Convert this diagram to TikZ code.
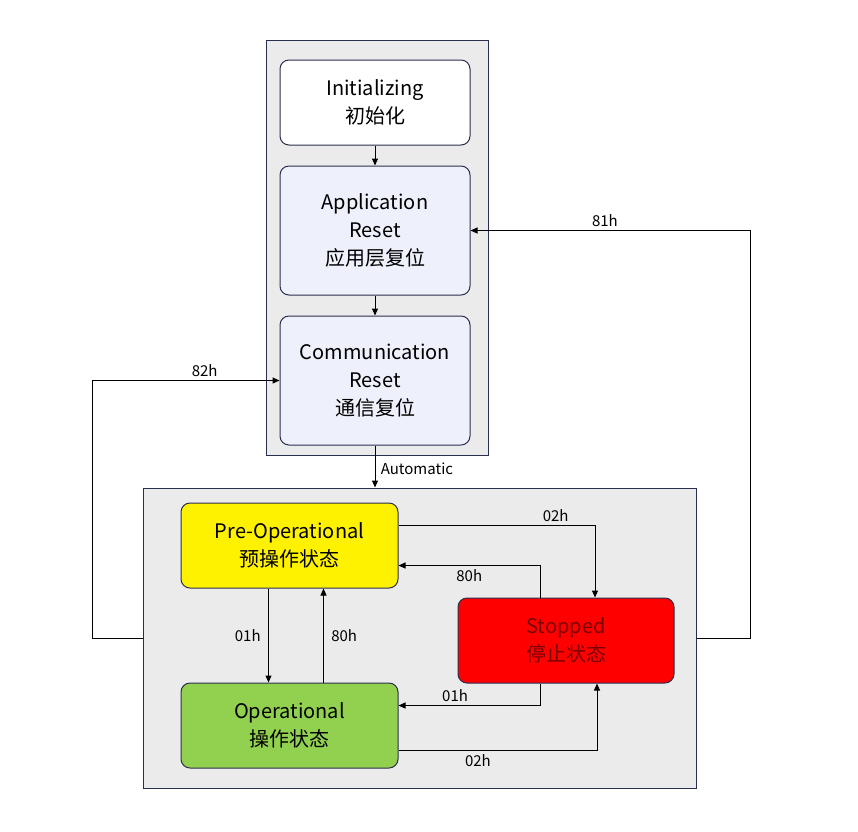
\documentclass[tikz,border=0pt]{standalone}
\usepackage{fontspec}
\setmainfont{Noto Sans CJK SC}
\usetikzlibrary{arrows.meta,calc}
\definecolor{frame}{HTML}{2B2F4E}
\definecolor{appblue}{HTML}{EEF0FC}
\definecolor{grpgray}{HTML}{EBEBEB}
\definecolor{opgreen}{HTML}{92D050}
\definecolor{stopred}{HTML}{FF0000}
\definecolor{stoptext}{HTML}{7A0000}
\tikzset{
  group/.style={draw=frame,line width=1pt,fill=grpgray},
  state/.style={draw=frame,line width=1pt,rounded corners=9pt,minimum width=190pt,
    align=center,font=\fontsize{20}{28}\selectfont},
  link/.style={-{Triangle[length=7pt,width=6pt]},line width=1pt},
  lbl/.style={font=\fontsize{15}{18}\selectfont}
}
\begin{document}
\begin{tikzpicture}[x=1pt,y=-1pt]
\useasboundingbox (0,0) rectangle (858,831);

    \node[group,minimum width=222pt,minimum height=415pt] (top) at (377,247.5) {};
    \node[group,minimum width=553pt,minimum height=300pt] (bottom) at (419.5,638) {};

    \node[state,fill=white,minimum height=85pt] (init) at (375,102.5) {Initializing\\初始化};
    \node[state,fill=appblue,minimum height=129pt] (app) at (375,230.5) {Application\\Reset\\应用层复位};
    \node[state,fill=appblue,minimum height=129pt] (comm) at (375,380.5) {Communication\\Reset\\通信复位};

    \node[state,fill=yellow,minimum width=217pt,minimum height=85pt] (preop) at (289.5,545.5) {Pre-Operational\\预操作状态};
    \node[state,fill=opgreen,minimum width=217pt,minimum height=85pt] (op) at (289.5,725.5) {Operational\\操作状态};
    \node[state,fill=stopred,text=stoptext,minimum width=216pt,minimum height=85pt] (stop) at (566,640.5) {Stopped\\停止状态};

    \draw[link] (init) -- (app);
    \draw[link] (app) -- (comm);
    \draw[link] (comm) -- node[lbl,right,pos=0.55,xshift=2pt]{Automatic} (comm.south |- bottom.north);

    \draw[link] (bottom.west) -- ++(-50,0) |- node[lbl,above,pos=0.8]{82h} (comm.west);
    \draw[link] (bottom.east) -- ++(54,0) |- node[lbl,above,pos=0.76]{81h} (app.east);

    \draw[link] ($(preop.east)+(0,-20)$) -| node[lbl,above,pos=0.4]{02h} ($(stop.north)+(29,0)$);
    \draw[link] ($(stop.north)+(-26,0)$) |- node[lbl,below,pos=0.75]{80h} ($(preop.east)+(0,20)$);
    \draw[link] ($(preop.south)+(-21,0)$) -- node[lbl,left,xshift=-4pt]{01h} ($(op.north)+(-21,0)$);
    \draw[link] ($(op.north)+(34,0)$) -- node[lbl,right,xshift=4pt]{80h} ($(preop.south)+(34,0)$);
    \draw[link] ($(stop.south)+(-26,0)$) |- node[lbl,above,pos=0.8]{01h} ($(op.east)+(0,-20)$);
    \draw[link] ($(op.east)+(0,25)$) -| node[lbl,below,pos=0.2]{02h} ($(stop.south)+(31,0)$);

\end{tikzpicture}
\end{document}
